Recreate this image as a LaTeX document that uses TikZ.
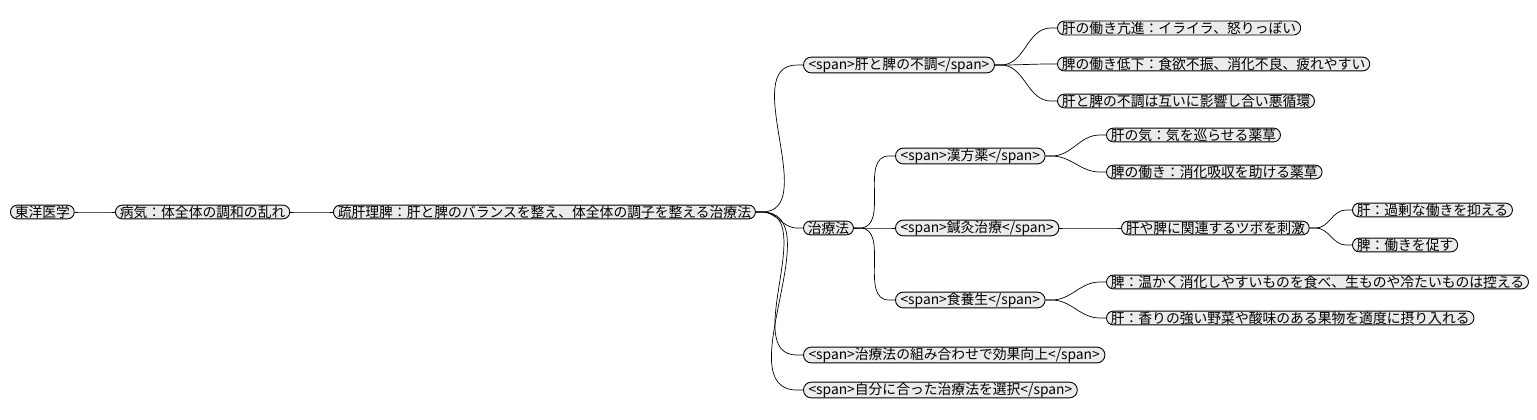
\documentclass[tikz,border=0pt]{standalone}
\usepackage{fontspec}
\setmainfont{Noto Sans CJK JP}
\usetikzlibrary{shapes.misc}
\begin{document}
\begin{tikzpicture}[x=1pt,y=-1pt,
  mm/.style={rounded rectangle,draw=black,line width=0.9pt,fill=gray!15,inner xsep=0pt,inner ysep=0.5pt,anchor=west,font=\fontsize{13.8}{14}\selectfont},
  lk/.style={draw=black,line width=0.7pt}]
\useasboundingbox (0,0) rectangle (1537,420);
\node[mm] (a) at (10,212) {東洋医学};
\node[mm] (b) at (115,212) {病気：体全体の調和の乱れ};
\node[mm] (c) at (333,212) {疏肝理脾：肝と脾のバランスを整え、体全体の調子を整える治療法};
\node[mm] (d1) at (803,65) {<span>肝と脾の不調</span>};
\node[mm] (d2) at (803,228) {治療法};
\node[mm] (d3) at (803,355) {<span>治療法の組み合わせで効果向上</span>};
\node[mm] (d4) at (803,390) {<span>自分に合った治療法を選択</span>};
\node[mm] (e1) at (1057,28) {肝の働き亢進：イライラ、怒りっぽい};
\node[mm] (e2) at (1057,64) {脾の働き低下：食欲不振、消化不良、疲れやすい};
\node[mm] (e3) at (1057,101) {肝と脾の不調は互いに影響し合い悪循環};
\node[mm] (f1) at (895,156) {<span>漢方薬</span>};
\node[mm] (f2) at (895,228) {<span>鍼灸治療</span>};
\node[mm] (f3) at (895,300) {<span>食養生</span>};
\node[mm] (g1) at (1106,135) {肝の気：気を巡らせる薬草};
\node[mm] (g2) at (1106,172) {脾の働き：消化吸収を助ける薬草};
\node[mm] (h) at (1121,228) {肝や脾に関連するツボを刺激};
\node[mm] (h1) at (1352,210) {肝：過剰な働きを抑える};
\node[mm] (h2) at (1352,245) {脾：働きを促す};
\node[mm] (g3) at (1106,282) {脾：温かく消化しやすいものを食べ、生ものや冷たいものは控える};
\node[mm] (g4) at (1106,318) {肝：香りの強い野菜や酸味のある果物を適度に摂り入れる};
\foreach \p/\c in {a/b,b/c,c/d1,c/d2,c/d3,c/d4,d1/e1,d1/e2,d1/e3,d2/f1,d2/f2,d2/f3,f1/g1,f1/g2,f2/h,h/h1,h/h2,f3/g3,f3/g4}
  \draw[lk] (\p.east) -- ++(6,0) to[out=0,in=180] ([xshift=-6pt]\c.west) -- (\c.west);
\end{tikzpicture}
\end{document}
